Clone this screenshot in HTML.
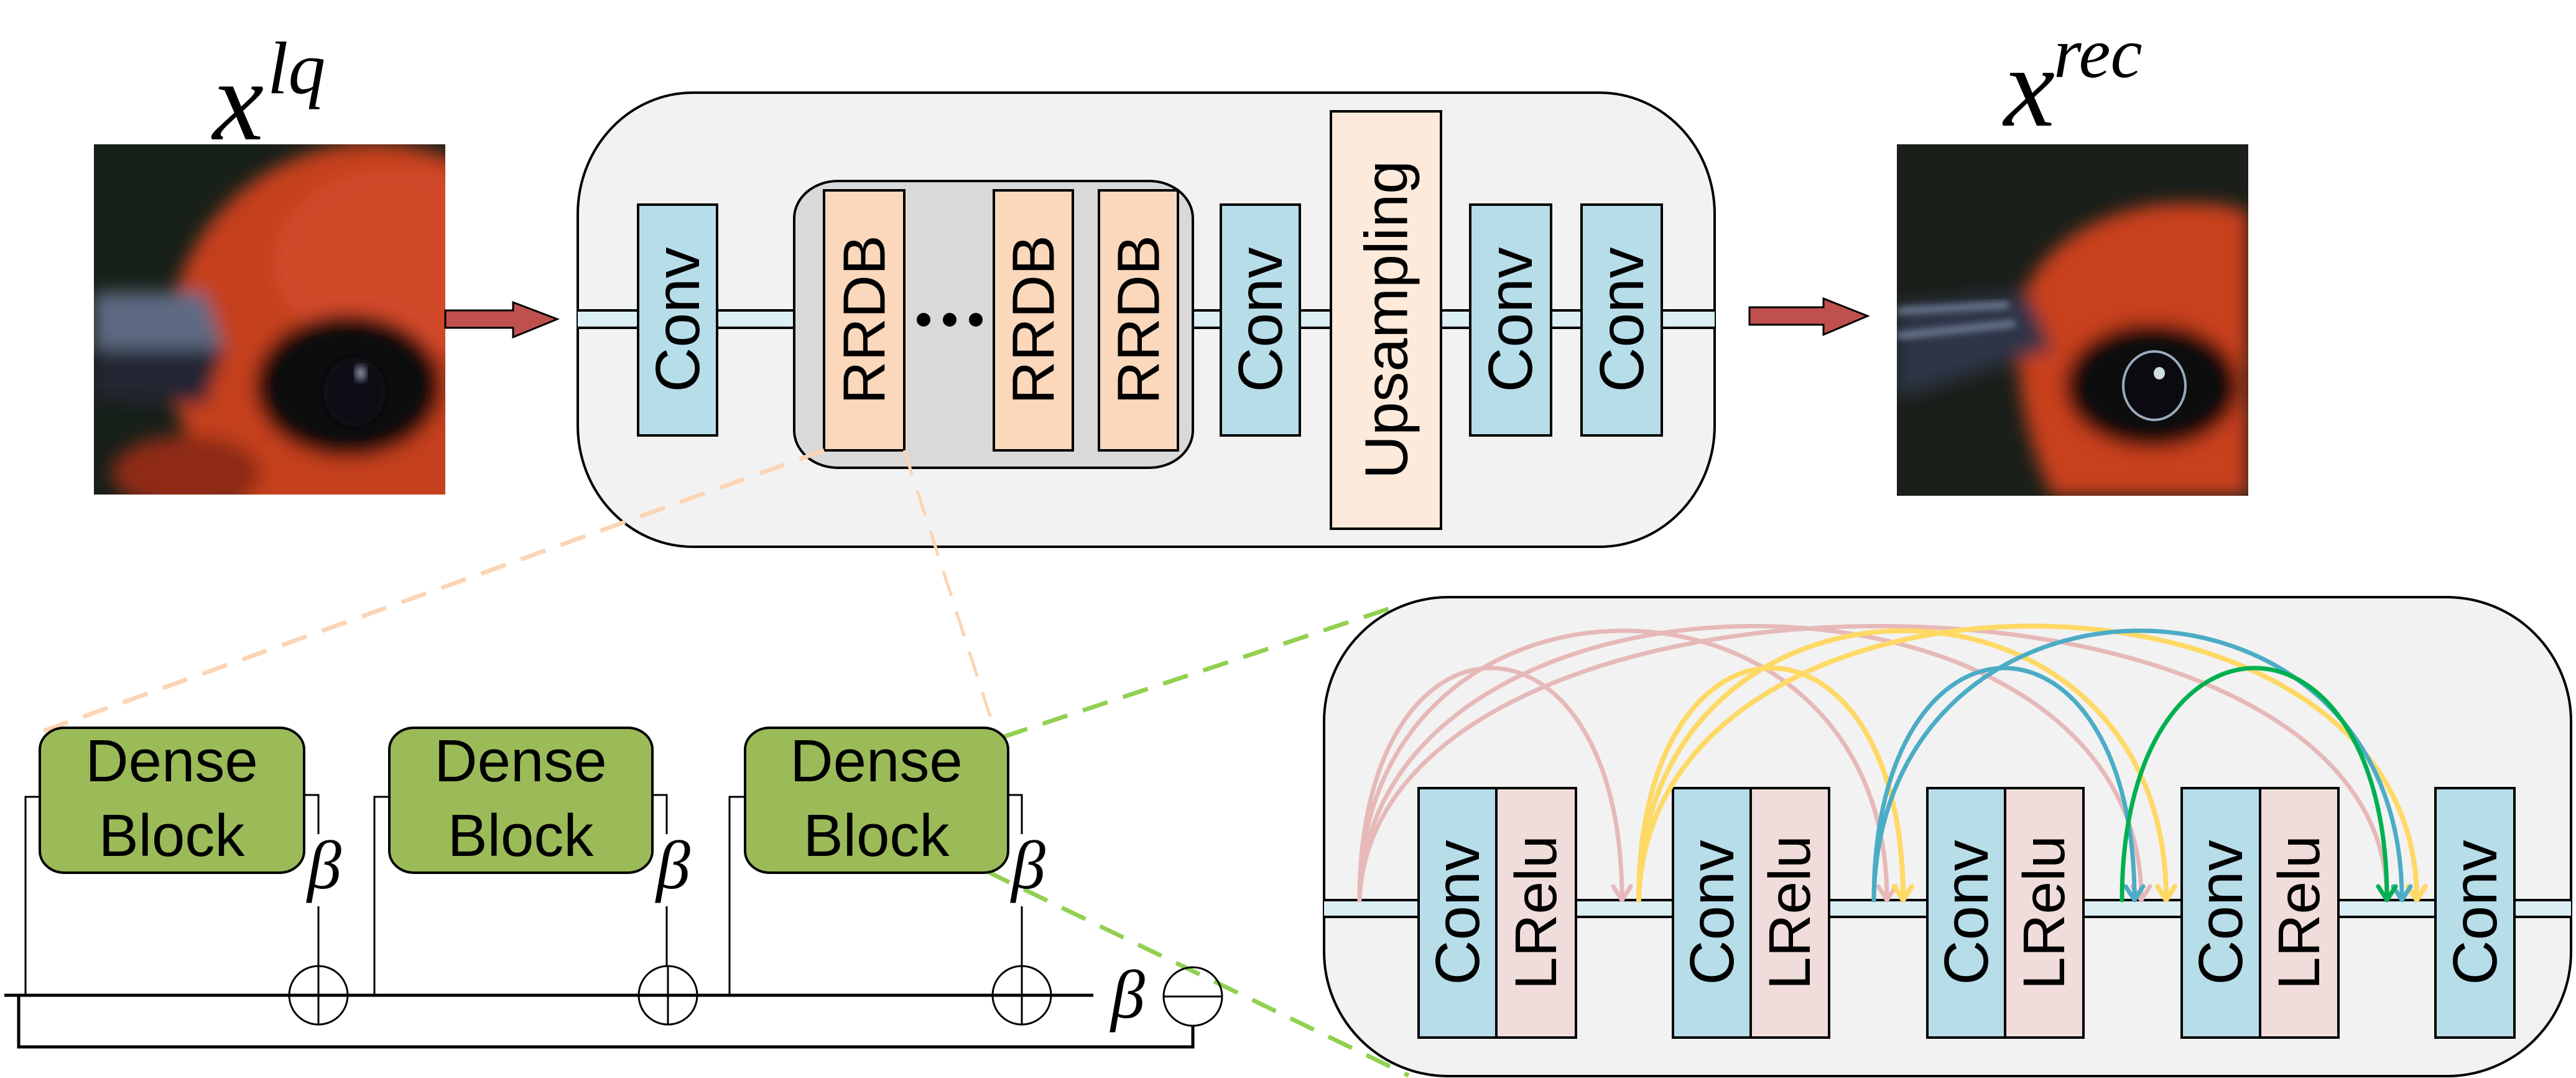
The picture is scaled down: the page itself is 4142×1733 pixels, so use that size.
<!DOCTYPE html>
<html><head><meta charset="utf-8"><style>
html,body{margin:0;padding:0;background:#fff;}
svg{display:block;}
.ser{font-family:"Liberation Serif","DejaVu Serif",serif;font-style:italic;}
</style></head><body>
<svg width="4142" height="1733" viewBox="0 0 4142 1733" xmlns="http://www.w3.org/2000/svg">
<defs>
<clipPath id="c1"><rect x="151" y="232" width="565" height="563"/></clipPath>
<clipPath id="c2"><rect x="3050" y="232" width="565" height="565"/></clipPath>
<filter id="bl" x="-20%" y="-20%" width="140%" height="140%"><feGaussianBlur stdDeviation="14"/></filter>
<filter id="bl2" x="-20%" y="-20%" width="140%" height="140%"><feGaussianBlur stdDeviation="6"/></filter>
</defs>

<g clip-path="url(#c1)">
<rect x="151" y="232" width="565" height="563" fill="#18201a"/>
<g filter="url(#bl)">
<ellipse cx="600" cy="560" rx="330" ry="330" fill="#c43f1f"/>
<ellipse cx="640" cy="420" rx="200" ry="150" fill="#d2482a"/>
<path d="M151 470 L330 470 L360 560 L151 600 Z" fill="#5d6a82"/>
<path d="M151 560 L360 560 L330 650 L151 640 Z" fill="#222630"/>
<ellipse cx="560" cy="620" rx="150" ry="115" fill="#0c0c10"/>
<ellipse cx="300" cy="760" rx="120" ry="60" fill="#8e2a18"/>
</g>
<ellipse cx="570" cy="630" rx="50" ry="55" fill="#101018" filter="url(#bl2)"/>
<ellipse cx="580" cy="600" rx="8" ry="12" fill="#9aa0b8" filter="url(#bl2)"/>
</g>

<text class="ser" x="342" y="224" font-size="185">x</text>
<text class="ser" x="430" y="150" font-size="120">lq</text>

<path d="M716 499 H825 V486 L896 513 L825 542 V527 H716 Z" fill="#c0504d" stroke="#000" stroke-width="3"/>

<rect x="929" y="149" width="1828" height="730" rx="185" ry="195" fill="#f2f2f2" stroke="#000" stroke-width="4"/>
<rect x="929" y="499" width="1828" height="28" fill="#dbeef4"/>
<line x1="929" y1="499" x2="2757" y2="499" stroke="#000" stroke-width="4"/>
<line x1="929" y1="527" x2="2757" y2="527" stroke="#000" stroke-width="4"/>
<rect x="1277" y="291" width="641" height="461" rx="70" ry="60" fill="#d9d9d9" stroke="#000" stroke-width="4"/>

<g stroke="#000" stroke-width="4">
<rect x="1026" y="329" width="127" height="371" fill="#b7dde8"/>
<rect x="1325" y="306" width="129" height="418" fill="#fbd8bb"/>
<rect x="1598" y="306" width="127" height="418" fill="#fbd8bb"/>
<rect x="1767" y="306" width="127" height="418" fill="#fbd8bb"/>
<rect x="1963" y="329" width="127" height="371" fill="#b7dde8"/>
<rect x="2140" y="179" width="177" height="671" fill="#fdeadb"/>
<rect x="2364" y="329" width="130" height="371" fill="#b7dde8"/>
<rect x="2543" y="329" width="129" height="371" fill="#b7dde8"/>
</g>
<g font-family="Liberation Sans, sans-serif" fill="#000" text-anchor="middle" dominant-baseline="central">
<text transform="translate(1090,514) rotate(-90)" font-size="100">Conv</text>
<text transform="translate(1390,514) rotate(-90)" font-size="96">RRDB</text>
<text transform="translate(1662,514) rotate(-90)" font-size="96">RRDB</text>
<text transform="translate(1831,514) rotate(-90)" font-size="96">RRDB</text>
<text transform="translate(2027,514) rotate(-90)" font-size="100">Conv</text>
<text transform="translate(2229,514) rotate(-90)" font-size="97">Upsampling</text>
<text transform="translate(2429,514) rotate(-90)" font-size="100">Conv</text>
<text transform="translate(2608,514) rotate(-90)" font-size="100">Conv</text>
</g>
<circle cx="1485" cy="514" r="11" fill="#000"/>
<circle cx="1527" cy="514" r="11" fill="#000"/>
<circle cx="1569" cy="514" r="11" fill="#000"/>

<path d="M2813 494 H2932 V480 L3003 508 L2932 538 V522 H2813 Z" fill="#c0504d" stroke="#000" stroke-width="3"/>

<g clip-path="url(#c2)">
<rect x="3050" y="232" width="565" height="565" fill="#1a1f1a"/>
<g filter="url(#bl)">
<path d="M3250 480 Q3300 360 3460 330 Q3560 320 3615 340 L3615 797 L3300 797 Q3230 650 3250 480 Z" fill="#c8401e"/>
<path d="M3050 490 L3260 470 L3300 560 L3050 640 Z" fill="#2d3446"/>
<ellipse cx="3460" cy="620" rx="140" ry="100" fill="#0c0c10"/>
</g>
<path d="M3050 500 L3230 490 M3050 540 L3240 520" stroke="#8a9ab8" stroke-width="8" filter="url(#bl2)"/>
<ellipse cx="3464" cy="620" rx="50" ry="55" fill="#0a0a10" stroke="#9ab" stroke-width="4"/>
<ellipse cx="3472" cy="600" rx="9" ry="10" fill="#cdd"/>
</g>

<text class="ser" x="3222" y="202" font-size="185">x</text>
<text class="ser" x="3302" y="124" font-size="115">rec</text>

<g fill="none" stroke-width="7" stroke-dasharray="42 26">
<line x1="1325" y1="724" x2="70" y2="1175" stroke="#fbd5b5"/>
<line x1="1454" y1="724" x2="1598" y2="1170" stroke="#fbd5b5" stroke-width="5"/>
<line x1="1612" y1="1185" x2="2235" y2="978" stroke="#92d050"/>
<line x1="1585" y1="1400" x2="2265" y2="1729" stroke="#92d050"/>
</g>

<g stroke="#000" fill="none" stroke-width="3">
<path d="M64 1281 H41 V1600"/>
<path d="M489 1278 H512 V1341 M512 1457 V1553"/>
<path d="M626 1281 H602 V1600"/>
<path d="M1049 1278 H1072 V1341 M1072 1457 V1553"/>
<path d="M1198 1281 H1173 V1600"/>
<path d="M1621 1278 H1643 V1341 M1643 1457 V1553"/>
<path d="M7 1600 H1758" stroke-width="5"/>
<path d="M30 1600 V1683 H1918 V1649" stroke-width="5"/>
<circle cx="512" cy="1600" r="47"/><path d="M512 1553 V1647"/>
<circle cx="1074" cy="1600" r="47"/><path d="M1074 1553 V1647"/>
<circle cx="1643" cy="1600" r="47"/><path d="M1643 1553 V1647"/>
<circle cx="1918" cy="1602" r="47"/><path d="M1871 1602 H1965"/>
</g>
<g stroke="#000" stroke-width="4" fill="#9bbb59">
<rect x="64" y="1170" width="425" height="233" rx="40" ry="35"/>
<rect x="626" y="1170" width="423" height="233" rx="40" ry="35"/>
<rect x="1198" y="1170" width="423" height="233" rx="40" ry="35"/>
</g>
<g font-family="Liberation Sans, sans-serif" font-size="96" text-anchor="middle" fill="#000">
<text x="276" y="1256">Dense</text><text x="276" y="1376">Block</text>
<text x="837" y="1256">Dense</text><text x="837" y="1376">Block</text>
<text x="1409" y="1256">Dense</text><text x="1409" y="1376">Block</text>
</g>
<g class="ser" font-size="110" fill="#000">
<text x="494" y="1428">β</text>
<text x="1055" y="1428">β</text>
<text x="1626" y="1428">β</text>
<text x="1786" y="1636">β</text>
</g>

<rect x="2129" y="960" width="2005" height="770" rx="200" ry="200" fill="#f2f2f2" stroke="#000" stroke-width="4"/>
<rect x="2129" y="1447" width="2005" height="27" fill="#dbeef4"/>
<line x1="2129" y1="1447" x2="4134" y2="1447" stroke="#000" stroke-width="4"/>
<line x1="2129" y1="1474" x2="4134" y2="1474" stroke="#000" stroke-width="4"/>
<g stroke="#000" stroke-width="4">
<rect x="2281" y="1267" width="125" height="401" fill="#b7dde8"/>
<rect x="2406" y="1267" width="128" height="401" fill="#f0dcda"/>
<rect x="2690" y="1267" width="125" height="401" fill="#b7dde8"/>
<rect x="2815" y="1267" width="126" height="401" fill="#f0dcda"/>
<rect x="3099" y="1267" width="125" height="401" fill="#b7dde8"/>
<rect x="3224" y="1267" width="126" height="401" fill="#f0dcda"/>
<rect x="3508" y="1267" width="126" height="401" fill="#b7dde8"/>
<rect x="3634" y="1267" width="126" height="401" fill="#f0dcda"/>
<rect x="3916" y="1267" width="127" height="401" fill="#b7dde8"/>
</g>
<g font-family="Liberation Sans, sans-serif" fill="#000" text-anchor="middle" dominant-baseline="central">
<text transform="translate(2344,1467) rotate(-90)" font-size="100">Conv</text>
<text transform="translate(2470,1467) rotate(-90)" font-size="95">LRelu</text>
<text transform="translate(2753,1467) rotate(-90)" font-size="100">Conv</text>
<text transform="translate(2878,1467) rotate(-90)" font-size="95">LRelu</text>
<text transform="translate(3162,1467) rotate(-90)" font-size="100">Conv</text>
<text transform="translate(3287,1467) rotate(-90)" font-size="95">LRelu</text>
<text transform="translate(3571,1467) rotate(-90)" font-size="100">Conv</text>
<text transform="translate(3697,1467) rotate(-90)" font-size="95">LRelu</text>
<text transform="translate(3980,1467) rotate(-90)" font-size="100">Conv</text>
</g>

<g fill="none" stroke-width="7" stroke-linecap="round" stroke-linejoin="round">
<g stroke="#e6b9b8">
<path d="M2186 1447 C2186 950 2608 950 2608 1445"/><path d="M2594 1425 L2608 1447 L2622 1425"/>
<path d="M2186 1447 C2186 870 3034 870 3034 1445"/><path d="M3020 1425 L3034 1447 L3048 1425"/>
<path d="M2186 1447 C2200 860 3443 860 3443 1445"/><path d="M3429 1425 L3443 1447 L3457 1425"/>
<path d="M2186 1447 C2210 860 3838 860 3838 1445"/><path d="M3824 1425 L3838 1447 L3852 1425"/>
</g>
<g stroke="#ffd966" stroke-width="8">
<path d="M2635 1447 C2635 950 3060 950 3060 1445"/><path d="M3046 1425 L3060 1447 L3074 1425"/>
<path d="M2635 1447 C2640 870 3483 870 3483 1445"/><path d="M3469 1425 L3483 1447 L3497 1425"/>
<path d="M2635 1447 C2650 860 3886 860 3886 1445"/><path d="M3872 1425 L3886 1447 L3900 1425"/>
</g>
<g stroke="#4bacc6">
<path d="M3013 1447 C3013 950 3432 950 3432 1445"/><path d="M3418 1425 L3432 1447 L3446 1425"/>
<path d="M3013 1447 C3020 870 3862 870 3862 1445"/><path d="M3848 1425 L3862 1447 L3876 1425"/>
</g>
<g stroke="#00b050">
<path d="M3412 1447 C3412 950 3838 950 3838 1445"/><path d="M3824 1425 L3838 1447 L3852 1425"/>
</g>
</g>
</svg>
</body></html>
